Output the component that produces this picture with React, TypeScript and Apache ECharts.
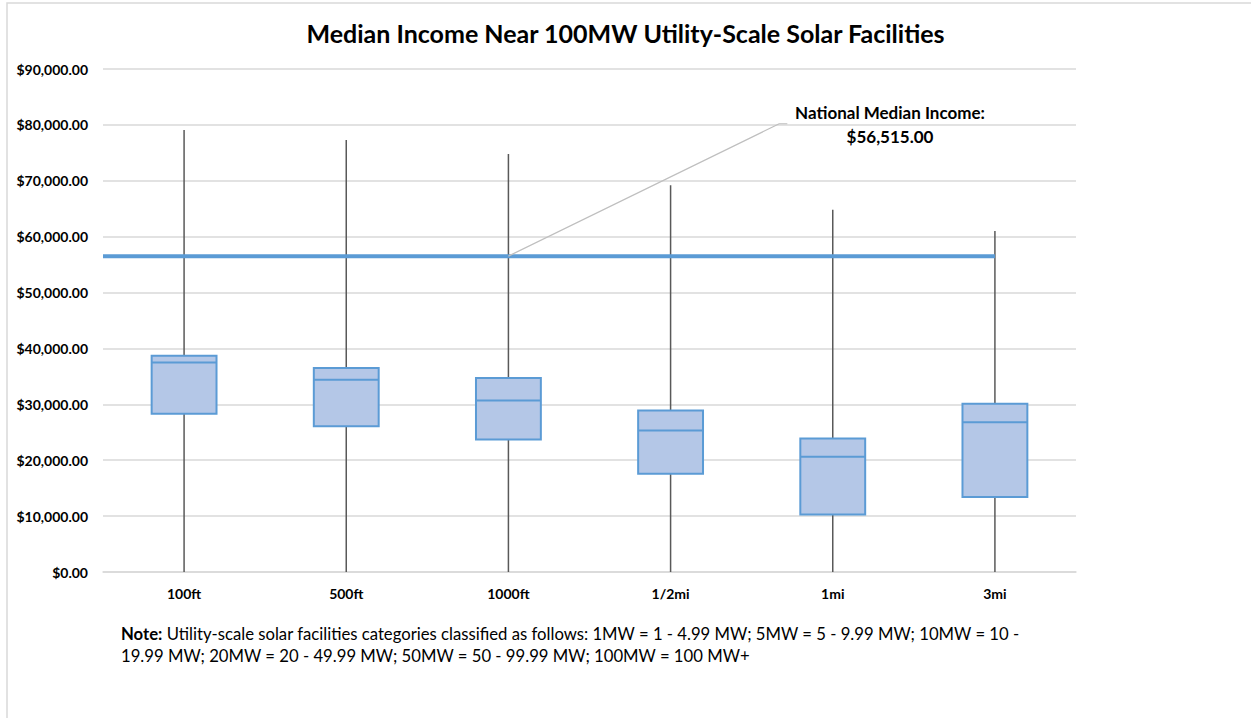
import React, { useEffect, useRef } from "react";
import * as echarts from "echarts";

const categories = ["100ft", "500ft", "1000ft", "1/2mi", "1mi", "3mi"];
const mins = [0, 0, 0, 0, 0, 0];
const q1s = [28300, 26100, 23700, 17600, 10300, 13400];
const medians = [37500, 34400, 30700, 25300, 20600, 26800];
const q3s = [38700, 36500, 34700, 28900, 23900, 30100];
const maxs = [79100, 77300, 74800, 69200, 64800, 61000];
const nationalMedian = 56515;
const yTicks = { min: 0, max: 90000, interval: 10000 };
const titleText = "Median Income Near 100MW Utility-Scale Solar Facilities";
const annotationLines = ["National Median Income:", "$56,515.00"];
const noteLine1 = "Utility-scale solar facilities categories classified as follows: 1MW = 1 - 4.99 MW; 5MW = 5 - 9.99 MW; 10MW = 10 -";
const noteLine2 = "19.99 MW; 20MW = 20 - 49.99 MW; 50MW = 50 - 99.99 MW; 100MW = 100 MW+";

export default function App() {
  const ref = useRef<HTMLDivElement>(null);
  useEffect(() => {
    document.body.style.margin = "0";
    const chart = echarts.init(ref.current!, null, { renderer: "svg" });
    const boxData = categories.map((_, i) => [i, mins[i], q1s[i], medians[i], q3s[i], maxs[i]]);
    const font = "Lato, 'Open Sans', sans-serif";
    chart.setOption({
      animation: false,
      backgroundColor: "#ffffff",
      title: {
        text: titleText,
        left: "center",
        top: 15,
        textStyle: { fontFamily: font, fontWeight: "bold", fontSize: 25, color: "#000" },
      },
      grid: { left: 103, right: 175, top: 69, bottom: 146, containLabel: false },
      xAxis: [
        {
          type: "category",
          data: categories,
          axisTick: { show: false },
          axisLine: { show: true, lineStyle: { color: "#d9d9d9", width: 1.5 } },
          axisLabel: { fontFamily: font, fontWeight: "bold", fontSize: 14, color: "#000", margin: 14 },
        },
        { type: "value", min: 0, max: 6, show: false },
      ],
      yAxis: {
        type: "value",
        min: yTicks.min,
        max: yTicks.max,
        interval: yTicks.interval,
        axisLine: { show: false },
        axisTick: { show: false },
        splitLine: { lineStyle: { color: "#d9d9d9", width: 1.5 } },
        axisLabel: {
          fontFamily: font,
          fontWeight: "bold",
          fontSize: 14,
          color: "#000",
          margin: 15,
          formatter: (v: number) =>
            "$" + v.toLocaleString("en-US", { minimumFractionDigits: 2, maximumFractionDigits: 2 }),
        },
      },
      series: [
        {
          type: "custom",
          xAxisIndex: 0,
          data: boxData,
          encode: { x: 0, y: [1, 2, 3, 4, 5] },
          z: 2,
          renderItem: (params: any, api: any) => {
            const idx = api.value(0);
            const pMin = api.coord([idx, api.value(1)]);
            const pQ1 = api.coord([idx, api.value(2)]);
            const pMed = api.coord([idx, api.value(3)]);
            const pQ3 = api.coord([idx, api.value(4)]);
            const pMax = api.coord([idx, api.value(5)]);
            const x = pMin[0];
            const bw = api.size([1, 0])[0] * 0.4;
            return {
              type: "group",
              children: [
                {
                  type: "line",
                  shape: { x1: x, y1: pMax[1], x2: x, y2: pMin[1] },
                  style: { stroke: "#595959", lineWidth: 1.5 },
                },
                {
                  type: "rect",
                  shape: { x: x - bw / 2, y: pQ3[1], width: bw, height: pQ1[1] - pQ3[1] },
                  style: { fill: "#b4c7e7", stroke: "#5b9bd5", lineWidth: 2 },
                },
                {
                  type: "line",
                  shape: { x1: x - bw / 2, y1: pMed[1], x2: x + bw / 2, y2: pMed[1] },
                  style: { stroke: "#5b9bd5", lineWidth: 2 },
                },
              ],
            };
          },
        },
        {
          type: "line",
          xAxisIndex: 1,
          data: [
            [0, nationalMedian],
            [5.5, nationalMedian],
          ],
          symbol: "none",
          lineStyle: { color: "#5b9bd5", width: 4 },
          z: 3,
        },
        {
          type: "line",
          xAxisIndex: 1,
          data: [
            [2.5, nationalMedian],
            [4.17, 80200],
            [4.22, 80200],
          ],
          symbol: "none",
          lineStyle: { color: "#bfbfbf", width: 1.2 },
          z: 3,
        },
      ],
      graphic: [
        {
          type: "rect",
          shape: { x: 7, y: 3, width: 1400, height: 900 },
          style: { fill: "none", stroke: "#d9d9d9", lineWidth: 1.5 },
          silent: true,
        },
        {
          type: "text",
          x: 890,
          y: 112,
          style: {
            text: annotationLines[0],
            fontFamily: font,
            fontWeight: "bold",
            fontSize: 17,
            fill: "#000",
            align: "center",
            verticalAlign: "middle",
          },
        },
        {
          type: "text",
          x: 890,
          y: 136,
          style: {
            text: annotationLines[1],
            fontFamily: font,
            fontWeight: "bold",
            fontSize: 17,
            fill: "#000",
            align: "center",
            verticalAlign: "middle",
          },
        },
        {
          type: "text",
          x: 121,
          y: 634,
          style: {
            text: "{b|Note:} " + noteLine1,
            fontFamily: font,
            fontSize: 16.7,
            fill: "#000",
            verticalAlign: "middle",
            rich: { b: { fontFamily: font, fontWeight: "bold", fontSize: 16.7, fill: "#000" } },
          },
        },
        {
          type: "text",
          x: 121,
          y: 656,
          style: {
            text: noteLine2,
            fontFamily: font,
            fontSize: 16.7,
            fill: "#000",
            verticalAlign: "middle",
          },
        },
      ],
    });
    return () => chart.dispose();
  }, []);
  return <div ref={ref} style={{ width: 1251, height: 718 }} />;
}
